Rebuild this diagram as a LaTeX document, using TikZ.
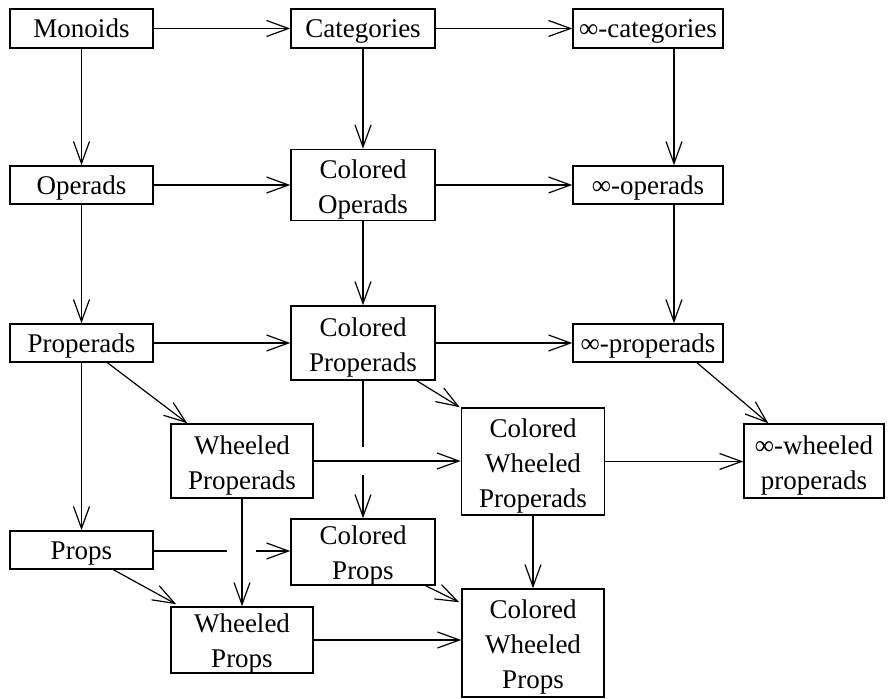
\documentclass[tikz,border=0pt]{standalone}
\usepackage{fontspec}
\setmainfont{Liberation Serif}
\usetikzlibrary{arrows.meta,calc}
\newcommand{\tstrut}{\rule{0pt}{13.5pt}}
\newcommand{\bstrut}{\rule[-4pt]{0pt}{4pt}}
\newcommand{\mstrut}{\rule{0pt}{13.7pt}}
\newcommand{\sstrut}{\rule{0pt}{12.5pt}}
\tikzset{
  box/.style={draw, line width=0.75pt, inner sep=0pt, align=center,
    font=\fontsize{13.5}{17.5}\selectfont},
  sz/.style 2 args={minimum width={#1*0.5pt}, minimum height={#2*0.5pt}},
  conn/.style={line width=0.6pt, -{Straight Barb[length=11pt,width=8pt]}},
  plainline/.style={line width=0.6pt},
}
\begin{document}
\begin{tikzpicture}[x=0.5pt,y=-0.5pt]
\useasboundingbox (0,0) rectangle (889,699);
% row 1
\node[box,sz={143}{39}] (mon)  at (81.5,28.5) {\tstrut Monoids\bstrut};
\node[box,sz={144}{39}] (cat)  at (363,28.5) {\tstrut Categories\bstrut};
\node[box,sz={150}{39}] (icat) at (648,28.5) {\tstrut ∞-categories\bstrut};
% row 2
\node[box,sz={143}{38}] (op)   at (81.5,185) {\tstrut Operads\bstrut};
\node[box,sz={144}{71}] (cop)  at (363,185) {\mstrut Colored\\Operads};
\node[box,sz={150}{38}] (iop)  at (648,185) {\tstrut ∞-operads\bstrut};
% row 3
\node[box,sz={143}{38}] (prop)  at (81.5,343) {\tstrut Properads\bstrut};
\node[box,sz={144}{74}] (cprop) at (363,343) {\mstrut Colored\\Properads};
\node[box,sz={150}{38}] (iprop) at (648,343) {\tstrut ∞-properads\bstrut};
% row 4
\node[box,sz={142}{74}]  (wprop)  at (242,461) {\mstrut Wheeled\\Properads};
\node[box,sz={143}{107}] (cwprop) at (533,461.5) {\mstrut Colored\\Wheeled\\Properads};
\node[box,sz={140}{74}]  (iwprop) at (814,461) {\mstrut ∞-wheeled\\properads};
% row 5
\node[box,sz={143}{38}]  (props)   at (81.5,550) {\tstrut Props\bstrut};
\node[box,sz={144}{66}]  (cprops)  at (363,552) {\sstrut Colored\\Props};
\node[box,sz={142}{66}]  (wprops)  at (242,640) {\sstrut Wheeled\\Props};
\node[box,sz={142}{108}] (cwprops) at (533,643) {\mstrut Colored\\Wheeled\\Props};

% horizontal arrows
\draw[conn] (mon.east) -- (cat.west);
\draw[conn] (cat.east) -- (icat.west);
\draw[conn] (op.east) -- (cop.west);
\draw[conn] (cop.east) -- (iop.west);
\draw[conn] (prop.east) -- (cprop.west);
\draw[conn] (cprop.east) -- (iprop.west);
\draw[conn] (wprop.east) -- (wprop.east -| cwprop.west);
\draw[conn] (cwprop.east) -- (cwprop.east -| iwprop.west);
\draw[conn] (wprops.east) -- (wprops.east -| cwprops.west);
% Props -> Colored Props with gap
\coordinate (pg1) at (227,551);
\coordinate (pg2) at (256,551);
\draw[plainline] (props.east |- pg1) -- (pg1);
\draw[conn] (pg2) -- (pg2 -| cprops.west);

% vertical arrows
\draw[conn] (mon.south) -- (op.north);
\draw[conn] (op.south) -- (prop.north);
\draw[conn] (prop.south) -- (props.north);
\draw[conn] (cat.south) -- (cop.north);
\draw[conn] (cop.south) -- (cprop.north);
\draw[conn] ($(icat.south)+(26,0)$) -- ($(iop.north)+(26,0)$);
\draw[conn] ($(iop.south)+(26,0)$) -- ($(iprop.north)+(26,0)$);
\draw[conn] (wprop.south) -- (wprop.south |- wprops.north);
\draw[conn] (cwprop.south) -- (cwprops.north);
% Colored Properads -> Colored Props with gap
\coordinate (vg1) at (363,447);
\coordinate (vg2) at (363,475);
\draw[plainline] (cprop.south) -- (vg1);
\draw[conn] (vg2) -- (cprops.north);

% diagonal arrows
\draw[conn] ($(prop.south)+(26,0)$) -- ($(wprop.north west)+(17,0)$);
\draw[conn] ($(cprop.south east)+(-19,0)$) -- ($(cwprop.north west)+(-1,0)$);
\draw[conn] ($(iprop.south)+(49,0)$) -- ($(iwprop.north west)+(25,0)$);
\draw[conn] ($(props.south)+(32,0)$) -- ($(wprops.north west)+(6,-2)$);
\draw[conn] ($(cprops.south east)+(-10,0)$) -- ($(cwprops.north west)+(-2,14)$);
\end{tikzpicture}
\end{document}
